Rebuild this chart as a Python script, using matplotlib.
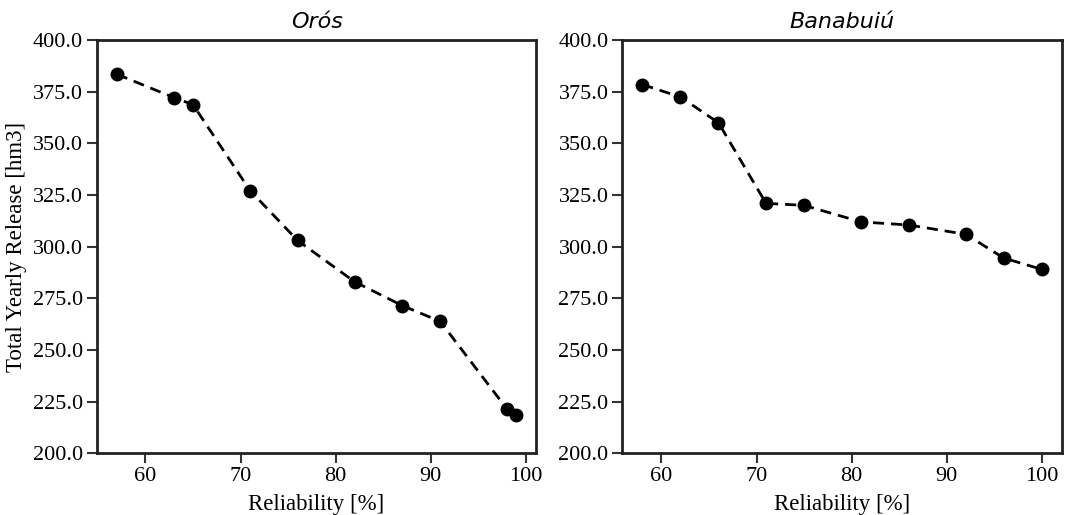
import numpy as np
import matplotlib
matplotlib.use("Agg")
import matplotlib.pyplot as plt

# reliability [%] and total yearly release [hm3] per reservoir
oros_rel = [57, 63, 65, 71, 76, 82, 87, 91, 98, 99]
oros_rel_vol = [383.5, 372.2, 368.8, 327.2, 303.0, 283.0, 271.5, 263.8, 221.5, 218.5]

bana_rel = [58, 62, 66, 71, 75, 81, 86, 92, 96, 100]
bana_rel_vol = [378.5, 372.5, 360.0, 321.0, 320.0, 312.0, 310.5, 306.0, 294.5, 289.0]

titles = ["Orós", "Banabuiú"]
yticks = [200.0, 225.0, 250.0, 275.0, 300.0, 325.0, 350.0, 375.0, 400.0]

plt.rcParams['font.family'] = ['Liberation Serif']

fig, axes = plt.subplots(1, 2, figsize=(10.65, 5.15), dpi=100)
fig.subplots_adjust(left=0.091, right=0.997, bottom=0.12, top=0.922, wspace=0.196)

for ax, x, y, t in zip(axes, [oros_rel, bana_rel], [oros_rel_vol, bana_rel_vol], titles):
    ax.plot(x, y, linestyle='--', color='black', linewidth=2,
            marker='o', markersize=9, dashes=(4, 2.5))
    ax.set_ylim(200, 400)
    ax.set_yticks(yticks)
    ax.set_yticklabels([f"{v:.1f}" for v in yticks])
    ax.set_xticks([60, 70, 80, 90, 100])
    ax.set_xlabel("Reliability [%]", fontsize=16.5, labelpad=6)
    ax.set_title(t, fontsize=16, style='italic', family='DejaVu Sans', pad=9)
    ax.tick_params(labelsize=16, length=7, width=1.5, color='#333333', direction='out', pad=3)
    for s in ax.spines.values():
        s.set_linewidth(2)
        s.set_color('#222222')

axes[0].set_ylabel("Total Yearly Release [hm3]", fontsize=16.5, labelpad=4)

fig.savefig("out.png", dpi=100)
